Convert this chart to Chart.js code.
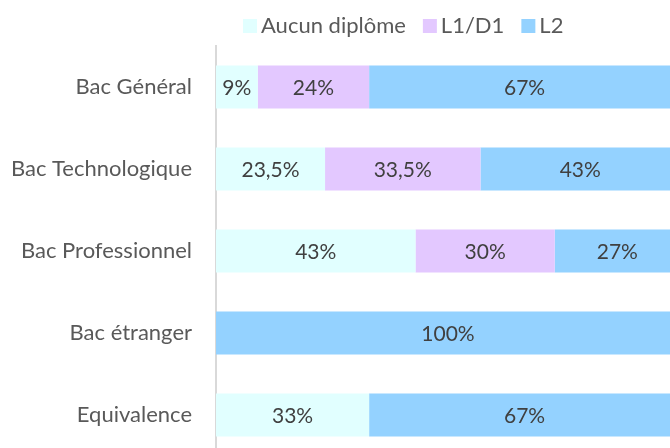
<!DOCTYPE html>
<html>
<head>
<meta charset="utf-8">
<script src="https://cdn.jsdelivr.net/npm/chart.js@4"></script>
<style>
  html, body { margin: 0; padding: 0; background: #fff; overflow: hidden; }
  #wrap { width: 670px; height: 448px; overflow: hidden; position: relative; }
  #chart { position: absolute; left: 0; top: 0; }
</style>
</head>
<body>
<div id="wrap"><canvas id="chart" width="682" height="460" style="width:682px;height:460px"></canvas></div>
<script>
// données
const categories = ["Bac Général", "Bac Technologique", "Bac Professionnel", "Bac étranger", "Equivalence"];
const aucunDiplome = [9, 23.5, 43, 0, 33];
const l1d1 = [24, 33.5, 30, 0, 0];
const l2 = [67, 43, 27, 100, 67];

const FONT = "Lato, 'Open Sans', sans-serif";

// étiquettes au centre des barres
const barLabels = {
  id: "barLabels",
  afterDatasetsDraw(chart) {
    const ctx = chart.ctx;
    ctx.save();
    ctx.font = "21px " + FONT;
    ctx.fillStyle = "#404040";
    ctx.textAlign = "center";
    ctx.textBaseline = "middle";
    chart.data.datasets.forEach((ds, i) => {
      chart.getDatasetMeta(i).data.forEach((bar, j) => {
        const v = ds.data[j];
        if (!v) return;
        const x = (bar.x + bar.base) / 2;
        ctx.fillText(String(v).replace(".", ",") + "%", x, bar.y + 1);
      });
    });
    ctx.restore();
  },
};

// légende dessinée à la main (position comme l'original)
const topLegend = {
  id: "topLegend",
  afterDraw(chart) {
    const ctx = chart.ctx;
    ctx.save();
    ctx.font = "22px " + FONT;
    ctx.textBaseline = "middle";
    let x = 243;
    const y = 26;
    chart.data.datasets.forEach(ds => {
      ctx.fillStyle = ds.backgroundColor;
      ctx.fillRect(x, y - 7, 14, 14);
      ctx.fillStyle = "#595959";
      ctx.fillText(ds.label, x + 18, y);
      x += 18 + ctx.measureText(ds.label).width + 17;
    });
    ctx.restore();
  },
};

new Chart(document.getElementById("chart"), {
  type: "bar",
  data: {
    labels: categories,
    datasets: [
      { label: "Aucun diplôme", data: aucunDiplome, backgroundColor: "#E1FFFF" },
      { label: "L1/D1", data: l1d1, backgroundColor: "#E3C8FF" },
      { label: "L2", data: l2, backgroundColor: "#94D2FF" },
    ],
  },
  options: {
    indexAxis: "y",
    responsive: false,
    animation: false,
    layout: { padding: { top: 46, right: 2, bottom: 4, left: 0 } },
    barPercentage: 0.525,
    categoryPercentage: 1,
    plugins: { legend: { display: false }, tooltip: { enabled: false } },
    scales: {
      x: { stacked: true, min: 0, max: 100, display: false },
      y: {
        stacked: true,
        grid: { display: false, drawTicks: false },
        border: { color: "#D9D9D9", width: 2 },
        ticks: { color: "#595959", font: { family: FONT, size: 22 }, padding: 24 },
        afterFit(scale) {
          scale.width = 216;
          // pas de marge verticale ajoutée par les étiquettes
          scale.paddingTop = 0;
          scale.paddingBottom = 0;
        },
      },
    },
  },
  plugins: [barLabels, topLegend],
});
</script>
</body>
</html>
